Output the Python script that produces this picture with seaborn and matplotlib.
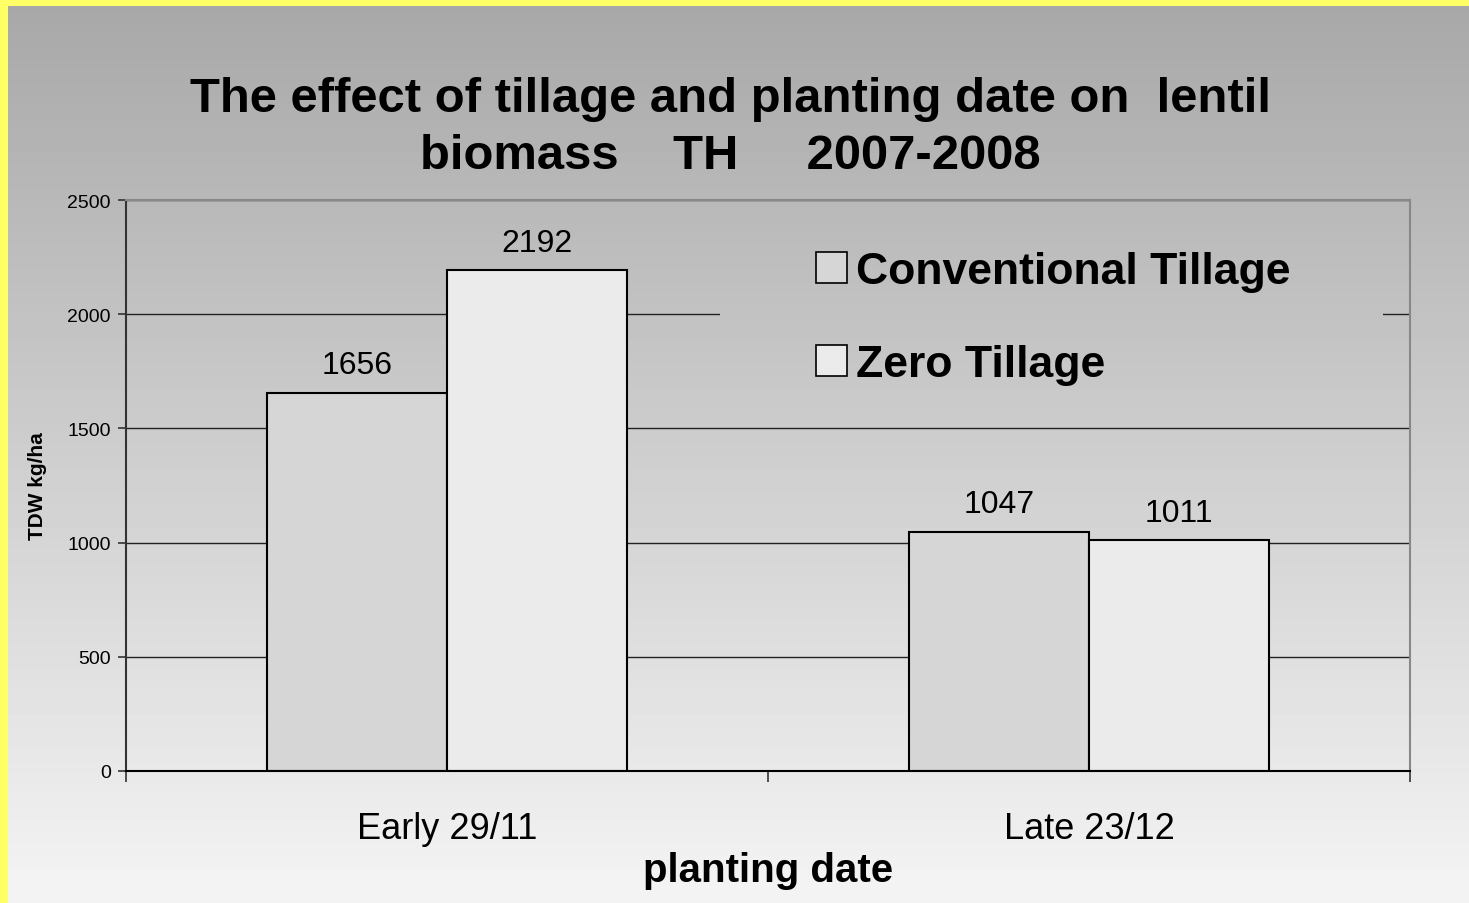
import numpy as np
import pandas as pd
import seaborn as sns
import matplotlib.pyplot as plt
from matplotlib.patches import Rectangle, Patch

# data
dates = ["Early 29/11", "Late 23/12"]
tillage = ["Conventional Tillage", "Zero Tillage"]
conventional = [1656, 1047]
zero = [2192, 1011]
colors = {"Conventional Tillage": "#d6d6d6", "Zero Tillage": "#ebebeb"}

df = pd.DataFrame({
    "date": dates * 2,
    "tillage": [tillage[0]] * 2 + [tillage[1]] * 2,
    "tdw": conventional + zero,
})

sns.set_theme(style="white")
plt.rcParams["font.family"] = ["Liberation Sans", "DejaVu Sans"]
plt.rcParams["text.color"] = "black"
plt.rcParams["axes.labelcolor"] = "black"
plt.rcParams["xtick.color"] = "black"
plt.rcParams["ytick.color"] = "black"

W, H = 1469, 904
fig = plt.figure(figsize=(W / 100, H / 100), dpi=100)
fig.patch.set_facecolor("#ffff66")


def shade(y):
    # gray level of the background at pixel row y (from top)
    return (168 + 76 * y / H) / 255


# gray gradient background, yellow strip left and top
bg = fig.add_axes([8 / W, 0, 1 - 8 / W, 1 - 7 / H], zorder=-1)
grad = shade(np.linspace(0, H, 256))[:, None]
bg.imshow(grad, cmap="gray", vmin=0, vmax=1, aspect="auto", extent=[0, 1, 0, 1])
bg.axis("off")

ax = fig.add_axes([126 / W, 132 / H, 1284 / W, 571 / H])
ax.patch.set_alpha(0)

sns.barplot(data=df, x="date", y="tdw", hue="tillage", palette=colors,
            width=0.56, saturation=1, edgecolor="black", linewidth=1.5,
            ax=ax, zorder=2, legend=False)

for c in ax.containers:
    ax.bar_label(c, fmt="%d", padding=9, fontsize=23)

ax.set_ylim(0, 2500)
ax.set_xlim(-0.5, 1.5)
ax.set_yticks(range(0, 2501, 500))
ax.set_axisbelow(True)
ax.grid(axis="y", color="#222222", linewidth=1)
ax.grid(axis="x", visible=False)

ax.set_xticks([-0.5, 0.5, 1.5], minor=True)
ax.tick_params(axis="x", which="major", length=0, pad=29, labelsize=26)
ax.tick_params(axis="x", which="minor", bottom=True, length=8, width=1.2,
               color="#333333", direction="out")
ax.tick_params(axis="y", left=True, length=6, width=1.2, color="#333333",
               pad=5, labelsize=14)

ax.set_xlabel("planting date", fontsize=29, fontweight="bold")
ax.xaxis.set_label_coords(0.5, -0.140)
ax.set_ylabel("TDW kg/ha", fontsize=15, fontweight="bold")
ax.yaxis.set_label_coords(-0.0615, 0.5)

for s in ["top", "right"]:
    ax.spines[s].set_color("#888888")
    ax.spines[s].set_linewidth(1.5)
ax.spines["left"].set_color("#333333")
ax.spines["left"].set_linewidth(1.5)
ax.spines["bottom"].set_color("black")
ax.spines["bottom"].set_linewidth(1.5)

# legend box hides the gridline behind it
g = shade(315)
ax.add_patch(Rectangle((0.4626, 0.78), 0.5164, 0.04, transform=ax.transAxes,
                       facecolor=(g, g, g), edgecolor="none", zorder=1))

handles = [Patch(facecolor=colors[t], edgecolor="black", linewidth=1.2) for t in tillage]
ax.legend(handles, tillage, loc="upper left", bbox_to_anchor=(0.537, 0.910),
          frameon=False, prop={"size": 32, "weight": "bold"},
          handlelength=0.7, handleheight=0.7, handletextpad=0.22,
          labelspacing=1.17, borderpad=0, borderaxespad=0)

fig.text(0.497, 0.8587,
         "The effect of tillage and planting date on  lentil\nbiomass    TH     2007-2008",
         ha="center", va="center", fontsize=35.3, fontweight="bold", linespacing=1.34)

fig.savefig("out.png", dpi=100, facecolor=fig.get_facecolor())
